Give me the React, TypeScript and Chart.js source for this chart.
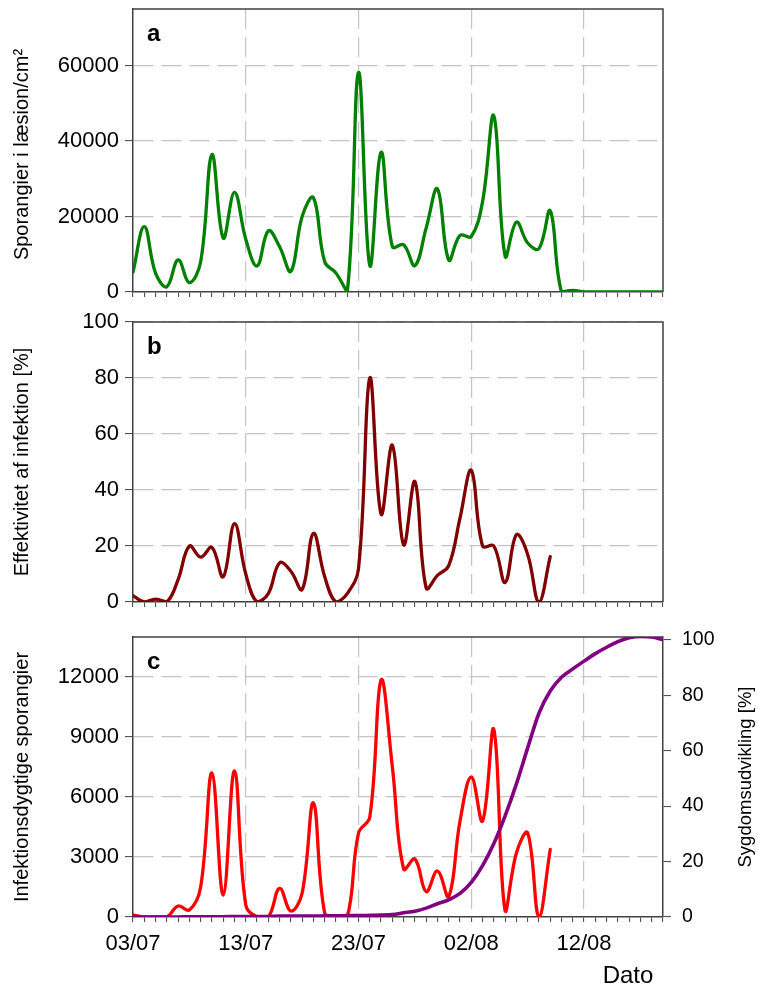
import React, { useEffect, useRef } from 'react';
import { Chart, registerables } from 'chart.js';

Chart.register(...registerables);

const FONT = "'Liberation Sans', Arial, Helvetica, sans-serif";
const GRID = '#c4c4c4';
const AXIS = '#404040';

// x axis: days counted from 03/07
const lastDay = 47;
const dateTickLabels = ['03/07', '13/07', '23/07', '02/08', '12/08'];

// y ticks
const sporTicks = [0, 20000, 40000, 60000];
const effTicks = [0, 20, 40, 60, 80, 100];
const infTicks = [0, 3000, 6000, 9000, 12000];
const sygTicks = [0, 20, 40, 60, 80, 100];

// a: Sporangier i læsion/cm² (one value per day from 03/07)
const sporangierLaesion = [
  5300, 17300, 5000, 1400, 8500, 2500, 8000, 36400, 14300, 26400,
  14000, 6900, 16200, 12000, 5500, 20000, 25000, 8000, 5000, 0,
  58200, 7000, 37000, 12000, 12500, 7000, 17000, 27300, 8500, 15000,
  14700, 24000, 46700, 9500, 18500, 13000, 11500, 21500, 0, 400,
  0, 0, 0, 0, 0, 0, 0, 0,
];

// b: Effektivitet af infektion [%]
const effektivitet = [
  2.3, 0, 1, 0, 8, 20, 16, 19.5, 9, 28,
  10, 0, 3, 14, 11, 4.5, 24.5, 9, 0, 3,
  12, 80, 31.4, 56, 20.4, 43, 5, 9.5, 13, 30,
  47, 20, 20, 7, 24, 17, 0, 16.2,
];

// c: Infektionsdygtige sporangier
const infektionsdygtige = [
  100, 0, 0, 0, 550, 350, 1500, 7200, 1100, 7300,
  600, 0, 0, 1430, 300, 1200, 5700, 200, 0, 0,
  4200, 5000, 11850, 7500, 2400, 2900, 1270, 2300, 1020, 4800,
  7000, 4800, 9380, 300, 3200, 4200, 0, 3380,
];

// c: Sygdomsudvikling [%]
const sygdomsudvikling = [
  0, 0, 0, 0, 0, 0.1, 0.1, 0.1, 0.1, 0.2,
  0.2, 0.2, 0.2, 0.3, 0.3, 0.3, 0.3, 0.4, 0.4, 0.5,
  0.5, 0.6, 0.7, 0.9, 1.5, 2.1, 3.2, 4.8, 6.2, 8.5,
  12.5, 18.5, 26.5, 36.5, 48, 61, 73.5, 81.5, 86.5, 89.5,
  92.3, 95, 97.3, 99.3, 100.7, 101.2, 101, 100,
];

const toPoints = (vals: number[]) => vals.map((v, i) => ({ x: i, y: v }));

const framePlugin = {
  id: 'frame',
  beforeDatasetsDraw(chart: any, _args: any, opts: any) {
    const { ctx, chartArea } = chart;
    const { left, top, right, bottom } = chartArea;
    ctx.save();
    ctx.strokeStyle = AXIS;
    ctx.lineWidth = 1.5;
    ctx.beginPath();
    ctx.moveTo(left, top);
    ctx.lineTo(right, top);
    if (opts.box) ctx.lineTo(right, bottom);
    ctx.stroke();
    ctx.restore();
  },
  afterDraw(chart: any, _args: any, opts: any) {
    const { ctx, chartArea } = chart;
    const { left, top, right, bottom } = chartArea;
    const midY = (top + bottom) / 2;
    ctx.save();
    ctx.fillStyle = '#000';
    ctx.font = `bold 24px ${FONT}`;
    ctx.textAlign = 'left';
    ctx.textBaseline = 'alphabetic';
    ctx.fillText(opts.letter, left + 14, top + 32);
    ctx.font = `20px ${FONT}`;
    ctx.textAlign = 'center';
    ctx.textBaseline = 'middle';
    ctx.save();
    ctx.translate(22, midY + (opts.leftShift || 0));
    ctx.rotate(-Math.PI / 2);
    ctx.fillText(opts.leftTitle, 0, 0);
    ctx.restore();
    if (opts.rightTitle) {
      ctx.font = `18.5px ${FONT}`;
      ctx.save();
      ctx.translate(right + 83, midY);
      ctx.rotate(-Math.PI / 2);
      ctx.fillText(opts.rightTitle, 0, 0);
      ctx.restore();
    }
    if (opts.xTitle) {
      ctx.font = `24px ${FONT}`;
      ctx.textAlign = 'center';
      ctx.textBaseline = 'alphabetic';
      ctx.fillText(opts.xTitle, right - 35, bottom + 66);
    }
    ctx.restore();
  },
};

const dayTicks = (axis: any) => {
  const t = [];
  for (let d = 0; d <= lastDay; d++) t.push({ value: d });
  axis.ticks = t;
};

const xScale = (showLabels: boolean, height: number) => ({
  type: 'linear',
  min: 0,
  max: lastDay,
  afterBuildTicks: dayTicks,
  afterFit: (s: any) => {
    s.height = height;
    s.paddingLeft = 0;
    s.paddingRight = 0;
  },
  grid: {
    color: (c: any) => (c.tick && c.tick.value % 10 === 0 && c.tick.value !== 0 ? GRID : 'rgba(0,0,0,0)'),
    lineWidth: 1.2,
    tickColor: AXIS,
    tickLength: 5,
    tickWidth: 1,
  },
  border: { color: AXIS, width: 1.5, dash: [20, 8] },
  ticks: {
    display: showLabels,
    autoSkip: false,
    maxRotation: 0,
    minRotation: 0,
    padding: 9,
    color: '#000',
    font: { family: FONT, size: 22 },
    callback: (v: number) => (v % 10 === 0 ? dateTickLabels[v / 10] : ''),
  },
});

const yScale = (max: number, ticks: number[], position: string, width: number, fontSize: number, pad: number, grid: boolean) => ({
  type: 'linear',
  position,
  min: 0,
  max,
  afterBuildTicks: (axis: any) => {
    axis.ticks = ticks.map((v) => ({ value: v }));
  },
  afterFit: (s: any) => {
    s.width = width;
    s.paddingTop = 0;
    s.paddingBottom = 0;
  },
  grid: {
    drawOnChartArea: grid,
    color: (c: any) => (c.tick && c.tick.value !== 0 ? GRID : 'rgba(0,0,0,0)'),
    lineWidth: 1.2,
    tickColor: AXIS,
    tickLength: 8,
    tickWidth: 1,
  },
  border: { color: AXIS, width: 1.5, dash: [20, 8] },
  ticks: {
    color: '#000',
    padding: pad,
    font: { family: FONT, size: fontSize },
    callback: (v: number) => String(v),
  },
});

const baseOptions = (padding: any) => ({
  responsive: false,
  animation: false,
  events: [],
  layout: { padding, autoPadding: false },
});

const lineDs = (vals: number[], color: string, extra: any = {}) => ({
  data: toPoints(vals),
  borderColor: color,
  borderWidth: 3.3,
  pointRadius: 0,
  fill: false,
  tension: 0.4,
  borderCapStyle: 'round',
  borderJoinStyle: 'round',
  ...extra,
});

const configA = () => ({
  type: 'line',
  data: { datasets: [lineDs(sporangierLaesion, '#008000')] },
  options: {
    ...baseOptions({ top: 9, right: 95, left: 0, bottom: 0 }),
    scales: {
      x: xScale(false, 13),
      y: yScale(75000, sporTicks, 'left', 133, 22, 6, true),
    },
    plugins: {
      legend: { display: false },
      tooltip: { enabled: false },
      frame: { box: true, letter: 'a', leftTitle: 'Sporangier i læsion/cm²', leftShift: 4 },
    },
  },
  plugins: [framePlugin],
});

const configB = () => ({
  type: 'line',
  data: { datasets: [lineDs(effektivitet, '#800000')] },
  options: {
    ...baseOptions({ top: 17, right: 95, left: 0, bottom: 0 }),
    scales: {
      x: xScale(false, 18),
      y: yScale(100, effTicks, 'left', 133, 22, 6, true),
    },
    plugins: {
      legend: { display: false },
      tooltip: { enabled: false },
      frame: { box: true, letter: 'b', leftTitle: 'Effektivitet af infektion [%]' },
    },
  },
  plugins: [framePlugin],
});

const configC = () => ({
  type: 'line',
  data: {
    datasets: [
      lineDs(sygdomsudvikling, '#800080', { yAxisID: 'y2', cubicInterpolationMode: 'monotone', borderWidth: 3.6 }),
      lineDs(infektionsdygtige, '#ff0000', { yAxisID: 'y' }),
    ],
  },
  options: {
    ...baseOptions({ top: 17, right: 0, left: 0, bottom: 0 }),
    scales: {
      x: xScale(true, 73),
      y: yScale(14000, infTicks, 'left', 133, 22, 6, true),
      y2: yScale(101, sygTicks, 'right', 95, 19.5, 11, false),
    },
    plugins: {
      legend: { display: false },
      tooltip: { enabled: false },
      frame: {
        box: false,
        letter: 'c',
        leftTitle: 'Infektionsdygtige sporangier',
        rightTitle: 'Sygdomsudvikling [%]',
        xTitle: 'Dato',
      },
    },
  },
  plugins: [framePlugin],
});

function Panel({ top, height, config }: { top: number; height: number; config: () => any }) {
  const ref = useRef<HTMLCanvasElement | null>(null);
  useEffect(() => {
    if (!ref.current) return;
    const chart = new Chart(ref.current, config());
    return () => chart.destroy();
  }, []);
  return (
    <canvas
      ref={ref}
      width={758}
      height={height}
      style={{ position: 'absolute', left: 0, top, width: 758, height }}
    />
  );
}

export default function App() {
  return (
    <div style={{ position: 'absolute', left: 0, top: 0, width: 758, height: 990, background: '#fff' }}>
      <Panel top={0} height={305} config={configA} />
      <Panel top={305} height={315} config={configB} />
      <Panel top={620} height={370} config={configC} />
    </div>
  );
}
